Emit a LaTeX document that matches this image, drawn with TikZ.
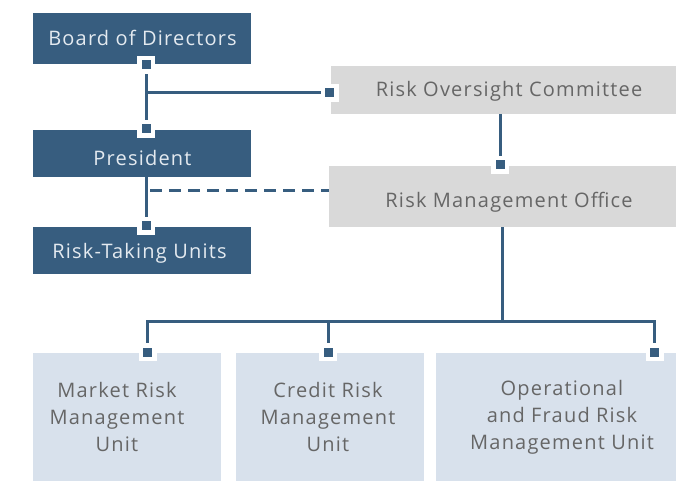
\documentclass[tikz,border=0pt]{standalone}
\usepackage{fontspec}
\setmainfont[LetterSpace=6]{Open Sans}
\definecolor{dk}{HTML}{375D7F}
\definecolor{gr}{HTML}{D9D9D9}
\definecolor{lb}{HTML}{D8E1EC}
\definecolor{tw}{HTML}{E4EAF0}
\definecolor{tg}{HTML}{666666}
\begin{document}
\begin{tikzpicture}[x=1pt,y=-1pt,
  box/.style={draw=none,inner sep=0pt,anchor=north west},
  dbox/.style={box,fill=dk},
  gbox/.style={box,fill=gr},
  lbox/.style={box,fill=lb},
  ttext/.style={font=\fontsize{20}{23}\selectfont,inner sep=0pt},
  wtext/.style={ttext,text=tw},
  gtext/.style={ttext,text=tg},
  btext/.style={ttext,text=tg,align=center,font=\fontsize{20}{27}\selectfont},
  conn/.style={draw=dk,line width=3pt},
  halo/.style={fill=white,draw=none,minimum size=18pt,inner sep=0pt},
  mk/.style={fill=dk,draw=none,minimum size=9pt,inner sep=0pt}
]
\useasboundingbox (0,0) rectangle (676,481);
% boxes
\node[dbox,minimum width=218pt,minimum height=51pt] (bod) at (33,13) {};
\node[gbox,minimum width=345pt,minimum height=48pt] (roc) at (331,66) {};
\node[dbox,minimum width=218pt,minimum height=47pt] (pres) at (33,130) {};
\node[gbox,minimum width=347pt,minimum height=61pt] (rmo) at (329,166) {};
\node[dbox,minimum width=218pt,minimum height=47pt] (rtu) at (33,227) {};
\node[lbox,minimum width=188pt,minimum height=128pt] (mru) at (33,353) {};
\node[lbox,minimum width=188pt,minimum height=128pt] (cru) at (236,353) {};
\node[lbox,minimum width=240pt,minimum height=128pt] (ofu) at (436,353) {};
% texts
\node[wtext] (tbod) at (142.5,38) {Board of Directors};
\node[gtext] (troc) at (509,91) {Risk Oversight Committee};
\node[wtext] (tpres) at (142.5,158) {President};
\node[gtext] (trmo) at (509,202) {Risk Management Office};
\node[wtext] (trtu) at (139.5,253) {Risk-Taking Units};
\node[btext] (tmru) at (117,417) {Market Risk\\Management\\Unit};
\node[btext] (tcru) at (328,417) {Credit Risk\\Management\\Unit};
\node[btext] (tofu) at (562,417) {Operational\\and Fraud Risk\\Management Unit};
% marker coordinates
\coordinate (m1) at (146,65);
\coordinate (m2) at (329.5,93);
\coordinate (m3) at (146,129);
\coordinate (m4) at (500,164.5);
\coordinate (m5) at (146,225.5);
\coordinate (m6) at (147.5,352);
\coordinate (m7) at (328,352);
\coordinate (m8) at (654.5,352);
\coordinate (j1) at (146,93);
\coordinate (rocb) at (500,114);
\coordinate (presb) at (146,177);
\coordinate (d1) at (146,190.5);
\coordinate (d2) at (329,190.5);
\coordinate (rmob) at (502,227);
\coordinate (j2) at (502,321.5);
% connectors
\draw[conn] (m1) -- (m3);
\draw[conn] (j1) -- (m2);
\draw[conn] (rocb) -- (m4);
\draw[conn] (presb) -- (m5);
\draw[conn,dash pattern=on 12pt off 7pt,dash phase=-4pt] (d1) -- (d2);
\draw[conn] (rmob) -- (j2);
\draw[conn] (m6) |- (j2) -| (m8);
\draw[conn] (m7) -- (m7 |- j2);
% markers
\foreach \m in {m1,m2,m3,m4,m5,m6,m7,m8}{
  \node[halo] at (\m) {};
  \node[mk] at (\m) {};
}
\end{tikzpicture}
\end{document}
